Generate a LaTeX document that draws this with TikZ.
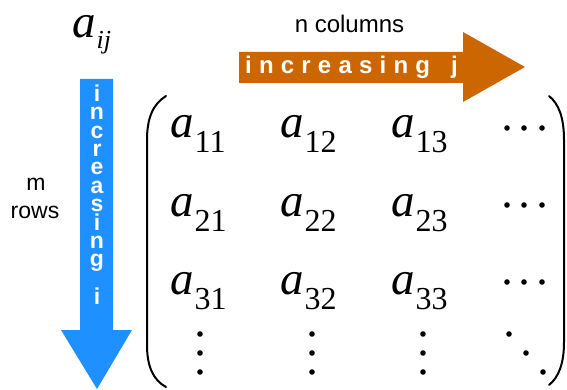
\documentclass[tikz,border=0pt]{standalone}
\usepackage{fontspec}
\setmainfont{Liberation Serif}
\newfontfamily\arialfont{Liberation Sans}
\definecolor{arrowblue}{RGB}{30,144,255}
\definecolor{arroworange}{RGB}{204,102,0}
\newcommand{\trk}{\kern7.2pt}
\newcommand{\entry}[1]{{\fontsize{47}{47}\selectfont\itshape a}\kern1pt\raisebox{-15pt}{\fontsize{32}{32}\selectfont #1}}
\tikzset{
  ent/.style={anchor=base west, inner sep=0pt},
  lbl/.style={anchor=base, inner sep=0pt, font=\arialfont\fontsize{23}{23}\selectfont},
  vtext/.style={anchor=north, inner sep=0pt, align=center, text=white, font=\arialfont\bfseries\fontsize{23}{18.4}\selectfont},
  hlet/.style={anchor=base west, inner sep=0pt, text=white, font=\arialfont\bfseries\fontsize{24}{24}\selectfont},
  paren/.style={line width=2pt, line cap=round},
  dotm/.style={fill=black}
}
\begin{document}
\begin{tikzpicture}[x=1pt, y=-1pt]
\useasboundingbox (0,0) rectangle (567,390);
% blue arrow
\fill[arrowblue] (80,79) -- (113,79) -- (113,330) -- (132,330) -- (97,389) -- (61,330) -- (80,330) -- cycle;
% orange arrow
\fill[arroworange] (239,52) -- (463,52) -- (463,32) -- (525,67) -- (463,102) -- (463,83) -- (239,83) -- cycle;
% a_ij
\node[ent] (aij) at (72,38) {{\fontsize{47}{47}\selectfont\itshape a}\kern1pt\raisebox{-11pt}{\fontsize{26}{26}\selectfont\itshape ij}};
% labels
\node[lbl, font=\arialfont\fontsize{24}{24}\selectfont] (ncol) at (349.5,33) {n columns};
\node[lbl] (m) at (36,190) {m};
\node[lbl] (rows) at (35,218) {rows};
% vertical text
\node[vtext] (vi) at (97,84.5) {i\\n\\c\\r\\e\\a\\s\\i\\n\\g\\[15pt]i};
% horizontal text
\node[hlet] (hj) at (245,74) {i\trk n\trk c\trk r\trk e\trk a\trk s\trk i\trk n\trk g\trk{} \trk j};
% matrix entries
\node[ent] (a11) at (170,138) {\entry{11}};
\node[ent] (a12) at (280,138) {\entry{12}};
\node[ent] (a13) at (391,138) {\entry{13}};
\node[ent] (a21) at (170,216) {\entry{21}};
\node[ent] (a22) at (280,216) {\entry{22}};
\node[ent] (a23) at (391,216) {\entry{23}};
\node[ent] (a31) at (170,294) {\entry{31}};
\node[ent] (a32) at (280,294) {\entry{32}};
\node[ent] (a33) at (391,294) {\entry{33}};
% dots
\foreach \y in {128,205,282}
  \foreach \x in {507,524,542}
    \fill[dotm] (\x,\y) circle (2.8);
\foreach \x in {200,312,423}
  \foreach \y in {334,353,372}
    \fill[dotm] (\x,\y) circle (2.8);
\fill[dotm] (509,334) circle (2.8);
\fill[dotm] (526,353) circle (2.8);
\fill[dotm] (543,372) circle (2.8);
% parentheses
\draw[paren] (166,96) .. controls (153,104) and (147,118) .. (147,140) -- (147,345) .. controls (147,366) and (153,380) .. (166,387);
\draw[paren] (549,96) .. controls (559,104) and (564,118) .. (564,140) -- (564,342) .. controls (564,363) and (559,377) .. (549,385);
\end{tikzpicture}
\end{document}
